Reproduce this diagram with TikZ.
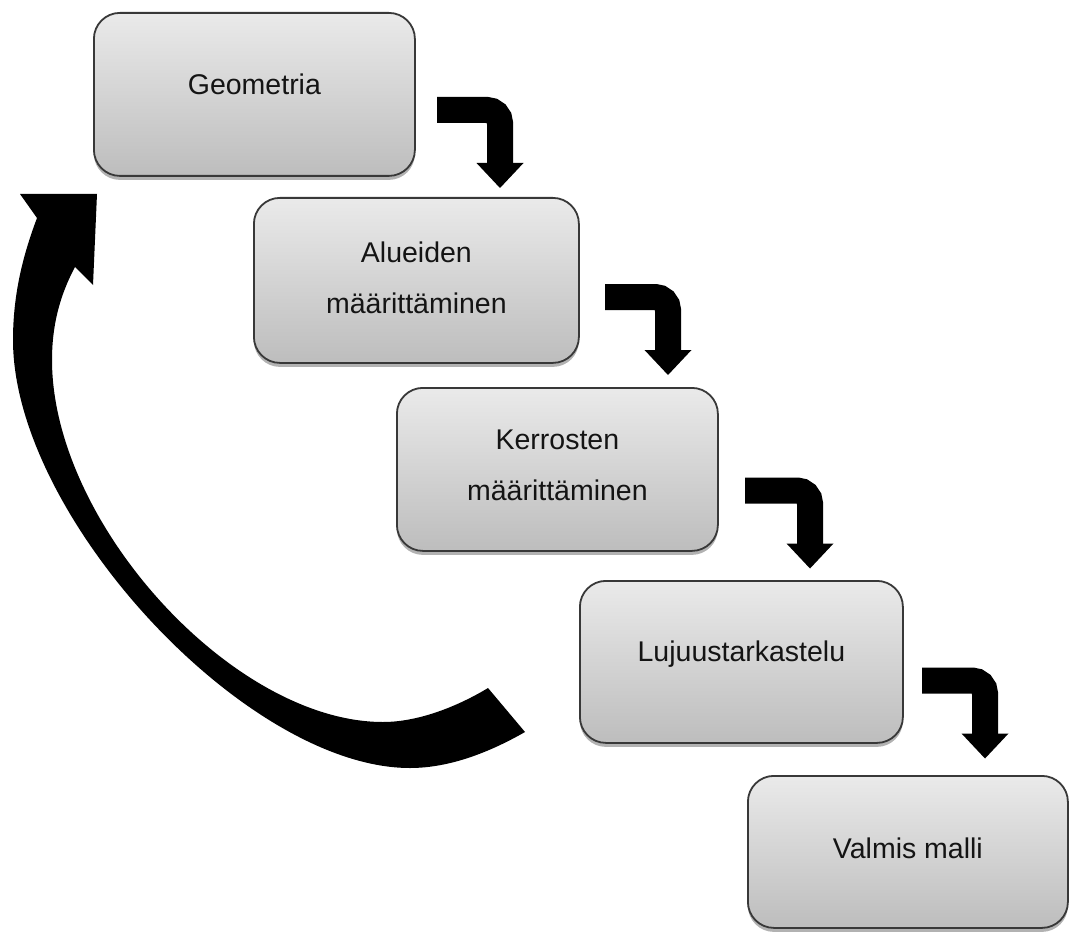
\documentclass[tikz,border=0pt]{standalone}
\usepackage{fontspec}
\setmainfont{Liberation Sans}
\usetikzlibrary{calc,shadows}
\definecolor{boxtop}{HTML}{EAEAEA}
\definecolor{boxbot}{HTML}{BDBDBD}
\definecolor{boxline}{HTML}{383838}
\definecolor{txt}{HTML}{141414}
\begin{document}
\begin{tikzpicture}[x=1pt,y=-1pt,
  stagebox/.style n args={2}{draw=boxline, line width=1.8pt, rounded corners=26pt,
    top color=boxtop, bottom color=boxbot, anchor=north west, inner sep=0pt,
    minimum width=#1pt, minimum height=#2pt,
    drop shadow={shadow xshift=0pt, shadow yshift=-4pt, opacity=0.3, fill=black}},
  lbl/.style={anchor=base, text=txt, inner sep=0pt, font=\fontsize{28.5}{34}\selectfont},
  elbow/.style={line width=26pt, rounded corners=13pt, line cap=butt, line join=miter},
]
\useasboundingbox[fill=white] (0,0) rectangle (1070,933);

% boxes
\node[stagebox={321}{163}] (b1) at (93,12) {};
\node[stagebox={325}{165}] (b2) at (253,197) {};
\node[stagebox={321}{163}] (b3) at (396,387) {};
\node[stagebox={323}{162}] (b4) at (579,580) {};
\node[stagebox={320}{152}] (b5) at (747,775) {};

% labels
\node[lbl] (t1) at (b1.center |- 0,95) {Geometria};
\node[lbl] (t2a) at (b2.center |- 0,262) {Alueiden};
\node[lbl] (t2b) at (b2.center |- 0,313) {määrittäminen};
\node[lbl] (t3a) at (b3.center |- 0,449) {Kerrosten};
\node[lbl] (t3b) at (b3.center |- 0,500) {määrittäminen};
\node[lbl] (t4) at (b4.center |- 0,661) {Lujuustarkastelu};
\node[lbl] (t5) at (b5.center |- 0,858) {Valmis malli};

% elbow arrows
\foreach \i/\sx/\cy/\cx in {1/437/110/500, 2/605/297/668, 3/745/490.5/810, 4/922/680.5/985}{
  \coordinate (s\i) at (\sx,\cy);
  \coordinate (c\i) at (\cx,\cy);
  \coordinate (h\i) at (\cx,\cy+53);
  \coordinate (e\i) at (\cx,\cy+78);
  \draw[elbow] (s\i) -- (c\i) -- ($(h\i)+(0,1)$);
  \fill ($(h\i)+(-23.5,0)$) -- (e\i) -- ($(h\i)+(23.5,0)$) -- cycle;
}

% big curved return arrow
\coordinate (tailA) at (525,732);
\coordinate (tailB) at (488,688);
\coordinate (headtip) at (97,194);
\fill[black] (tailA)
  .. controls (490,752) and (450,768) .. (410,768)
  .. controls (246,768) and (13,516) .. (13,340)
  .. controls (13,290) and (25,250) .. (37,218)
  -- (20,194) -- (headtip) -- (93,285) -- (75,267)
  .. controls (60,295) and (52,325) .. (52,360)
  .. controls (52,523) and (233,722) .. (383,722)
  .. controls (420,722) and (460,705) .. (tailB)
  -- cycle;
\end{tikzpicture}
\end{document}
